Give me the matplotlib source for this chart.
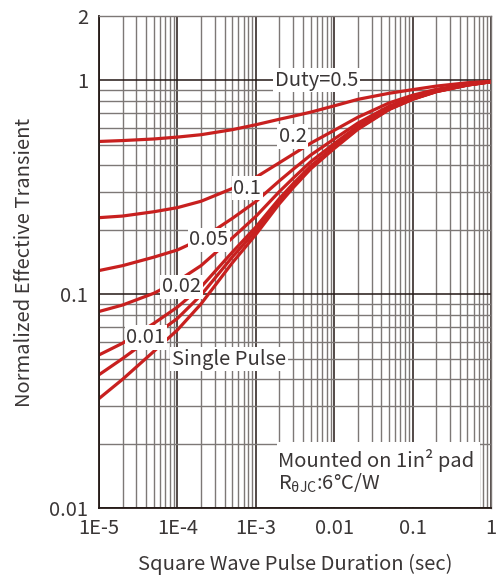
import numpy as np
import matplotlib
matplotlib.use("Agg")
import matplotlib.pyplot as plt
from matplotlib.patches import Rectangle
from matplotlib.ticker import LogLocator, NullFormatter

plt.rcParams['font.family'] = ['Noto Sans CJK SC', 'DejaVu Sans']
plt.rcParams['mathtext.fontset'] = 'custom'
plt.rcParams['mathtext.rm'] = 'Noto Sans CJK SC'
plt.rcParams['mathtext.it'] = 'Noto Sans CJK SC'

# pulse duration (sec)
t = [1e-5, 2e-5, 5e-5, 1e-4, 2e-4, 5e-4, 1e-3, 2e-3, 3e-3, 5e-3,
     1e-2, 2e-2, 5e-2, 0.1, 0.2, 0.5, 1.0]

# normalized effective transient
z_single = [0.0325, 0.040, 0.054, 0.068, 0.090, 0.140, 0.190, 0.265, 0.315, 0.385,
            0.480, 0.590, 0.730, 0.815, 0.885, 0.950, 0.985]
z_001 = [0.042, 0.050, 0.064, 0.077, 0.099, 0.149, 0.198, 0.272, 0.322, 0.391,
         0.485, 0.594, 0.733, 0.817, 0.886, 0.951, 0.985]
z_002 = [0.052, 0.059, 0.073, 0.087, 0.108, 0.157, 0.206, 0.280, 0.329, 0.397,
         0.490, 0.598, 0.735, 0.819, 0.887, 0.951, 0.985]
z_005 = [0.083, 0.089, 0.101, 0.115, 0.136, 0.183, 0.231, 0.302, 0.349, 0.416,
         0.506, 0.611, 0.744, 0.824, 0.891, 0.953, 0.986]
z_01 = [0.129, 0.136, 0.149, 0.161, 0.181, 0.226, 0.271, 0.339, 0.384, 0.447,
        0.532, 0.631, 0.757, 0.834, 0.897, 0.955, 0.987]
z_02 = [0.228, 0.232, 0.243, 0.254, 0.272, 0.312, 0.352, 0.412, 0.452, 0.508,
        0.584, 0.672, 0.784, 0.852, 0.908, 0.960, 0.988]
z_05 = [0.518, 0.523, 0.532, 0.543, 0.557, 0.588, 0.620, 0.658, 0.680, 0.710,
        0.760, 0.815, 0.870, 0.905, 0.940, 0.975, 0.990]

curves = [z_single, z_001, z_002, z_005, z_01, z_02, z_05]

# curve labels: text, t position, z position
labels = ["Duty=0.5", "0.2", "0.1", "0.05", "0.02", "0.01", "Single Pulse"]
label_t = [6.0e-3, 2.94e-3, 7.8e-4, 2.53e-4, 1.13e-4, 3.95e-5, 4.55e-4]
label_z = [1.0, 0.547, 0.313, 0.1795, 0.1084, 0.0627, 0.0497]

xticks = [1e-5, 1e-4, 1e-3, 1e-2, 1e-1, 1]
xticklabels = ["1E-5", "1E-4", "1E-3", "0.01", "0.1", "1"]
yticks = [0.01, 0.1, 1, 2]
yticklabels = ["0.01", "0.1", "1", "2"]

red = "#c8201f"
txt = "#3a3636"
fs = 14.5

fig = plt.figure(figsize=(5.01, 5.8), dpi=100)
ax = fig.add_axes([0.1976, 0.1241, 0.7824, 0.8483])
ax.set_xscale("log")
ax.set_yscale("log")
ax.set_xlim(1e-5, 1)
ax.set_ylim(0.01, 2)

ax.xaxis.set_minor_locator(LogLocator(base=10, subs=np.arange(2, 10)))
ax.yaxis.set_minor_locator(LogLocator(base=10, subs=np.arange(2, 10)))
ax.xaxis.set_minor_formatter(NullFormatter())
ax.yaxis.set_minor_formatter(NullFormatter())
ax.grid(which="minor", color="#7d7876", lw=1.0)
ax.grid(which="major", color="#231815", lw=1.1)
ax.set_axisbelow(True)

for z in curves:
    ax.plot(t, z, color=red, lw=2.3, solid_capstyle="butt")

for s, xt, yz in zip(labels, label_t, label_z):
    ax.text(xt, yz, s, fontsize=fs, color=txt, ha="center", va="center",
            bbox=dict(facecolor="white", edgecolor="none", pad=1.2))

# note box in the lower right
ax.add_patch(Rectangle((0.453, 0.003), 0.519, 0.132, transform=ax.transAxes,
                       facecolor="white", edgecolor="none", zorder=3))
ax.text(0.457, 0.0976, "Mounted on 1in² pad", transform=ax.transAxes,
        fontsize=fs, color=txt, ha="left", va="center", zorder=4)
ax.text(0.457, 0.051, "R$_{\\mathrm{θJC}}$:6°C/W", transform=ax.transAxes,
        fontsize=fs, color=txt, ha="left", va="center", zorder=4)

ax.set_xticks(xticks, xticklabels)
ax.set_yticks(yticks, yticklabels)
ax.tick_params(which="both", length=0, labelsize=fs, labelcolor=txt)
ax.tick_params(axis="x", pad=7)
ax.tick_params(axis="y", pad=8)

for side in ["top", "right"]:
    ax.spines[side].set_color("#7d7876")
    ax.spines[side].set_linewidth(1.0)
for side in ["left", "bottom"]:
    ax.spines[side].set_color("#231815")
    ax.spines[side].set_linewidth(1.3)

ax.set_xlabel("Square Wave Pulse Duration (sec)", fontsize=fs, color=txt, labelpad=11)
ax.set_ylabel("Normalized Effective Transient", fontsize=fs, color=txt, labelpad=10)

fig.savefig("out.png", dpi=100)
